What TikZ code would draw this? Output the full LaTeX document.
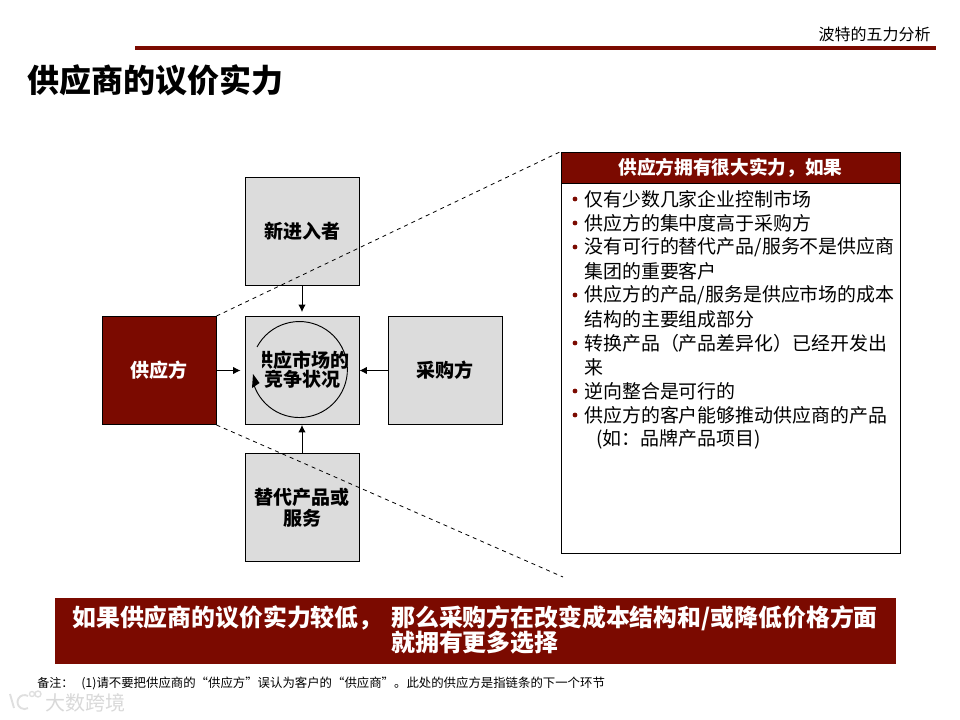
\documentclass[tikz,border=0pt]{standalone}
\usepackage{fontspec}
\setmainfont{Noto Sans CJK SC}
\usepackage{tikz}
\usetikzlibrary{arrows.meta}
\definecolor{darkred}{HTML}{7B0A00}
\definecolor{boxgray}{HTML}{DCDCDC}
\tikzset{
    force/.style={draw=black,fill=boxgray,line width=0.7pt,minimum width=85.5pt,minimum height=81pt,inner sep=0pt,align=center,font=\fontsize{14.25}{16}\selectfont\bfseries},
    redforce/.style={force,fill=darkred,text=white},
    line/.style={anchor=west,inner sep=0pt,font=\fontsize{14.2}{17}\selectfont},
    dot/.style={circle,fill=darkred,inner sep=0pt,minimum size=3.6pt},
    link/.style={-{Latex[length=5.5pt,width=5.5pt]},line width=0.7pt},
    guide/.style={dashed,line width=0.6pt},
    barline/.style={anchor=west,inner sep=0pt,text=white,font=\fontsize{17.9}{21}\selectfont\bfseries}
}
\begin{document}
\begin{tikzpicture}[x=0.75pt,y=-0.75pt]
        \useasboundingbox (0,0) rectangle (960,720);
        \fill[white] (0,0) rectangle (960,720);
        \node[anchor=east,inner sep=0pt,font=\fontsize{12}{14}\selectfont] (section) at (931,34) {波特的五力分析};
        \coordinate (ruleL) at (135,48);
        \coordinate (ruleR) at (936,48);
        \draw[darkred,line width=2.5pt] (ruleL) -- (ruleR);
        \node[anchor=west,inner sep=0pt,font=\fontsize{24}{28}\selectfont\bfseries] (title) at (27,80) {供应商的议价实力};

        \node[force] (entrant) at (302,231.5) {新进入者};
        \node[redforce] (supplier) at (159,370.5) {供应方};
        \node[force] (market) at (302,370.5) {};
        \node[force] (buyer) at (445,370.5) {采购方};
        \node[force] (substitute) at (302,507.5) {替代产品或\\服务};

        \node[inner sep=0pt,align=center,font=\fontsize{14.25}{14.6}\selectfont\bfseries] (rivalry) at (302,369.5) {供应市场的\\竞争状况};
        \fill[boxgray] (250,349) rectangle (261.5,369);
        \draw[line width=0.7pt] (257,347) arc[start angle=208,end angle=522,radius=48];
        \fill (253,374) -- (259.5,383) -- (252,388) -- cycle;

        \draw[link,shorten >=3pt] (supplier) -- (market);
        \draw[link,shorten >=3pt] (entrant) -- (market);
        \draw[link] (buyer) -- (market);
        \draw[link] (substitute) -- (market);

        \node[draw=black,fill=white,line width=0.6pt,minimum width=254.25pt,minimum height=300.75pt,inner sep=0pt] (panel) at (730.5,352.5) {};
        \node[draw=black,fill=darkred,text=white,line width=0.6pt,minimum width=254.25pt,minimum height=23.25pt,inner sep=0pt,font=\fontsize{14}{17}\selectfont\bfseries] (panelhead) at (730.5,167.5) {供应方拥有很大实力，如果};
        \draw[guide] (supplier.north east) -- (panel.north west);
        \coordinate (guideend) at (563,577);
        \draw[guide] (supplier.south east) -- (guideend);

        \foreach \name/\ypos in {a/199,b/223,c/247,e/295,g/343,i/391,j/415}
            \node[dot] (dot\name) at (575,\ypos) {};
        \foreach \ypos/\txt in {199/{仅有少数几家企业控制市场},223/{供应方的集中度高于采购方},247/{没有可行的替代产品/服务不是供应商},271/{集团的重要客户},295/{供应方的产品/服务是供应市场的成本},319/{结构的主要组成部分},343/{转换产品（产品差异化）已经开发出},367/{来},391/{逆向整合是可行的},415/{供应方的客户能够推动供应商的产品}}
            \node[line] at (584,\ypos) {\txt};
        \node[line] (example) at (596,439) {(如：品牌产品项目)};

        \node[fill=darkred,minimum width=630.75pt,minimum height=49.5pt,inner sep=0pt] (conclusion) at (475.5,631) {};
        \node[barline] (concl1) at (72,618) {如果供应商的议价实力较低，};
        \node[barline] (concl2) at (391,618) {那么采购方在改变成本结构和/或降低价格方面};
        \node[barline] (concl3) at (391,643) {就拥有更多选择};

        \node[anchor=west,inner sep=0pt,font=\fontsize{9}{11}\selectfont] (notelabel) at (37,683) {备注：};
        \node[anchor=west,inner sep=0pt,font=\fontsize{9.3}{11}\selectfont] (note) at (81,683) {(1)请不要把供应商的“供应方”误认为客户的“供应商”。此处的供应方是指链条的下一个环节};

        \node[anchor=west,inner sep=0pt,text=gray!30,font=\fontsize{15}{18}\selectfont] (mark) at (45,703) {大数跨境};
        \draw[gray!25,line width=1.4pt] (10,694) -- (14,708);
        \draw[gray!25,line width=1.4pt] (28,696) arc[start angle=300,end angle=60,radius=7];
        \draw[gray!25,line width=1pt] (32,694) circle[radius=2.5] (38,694) circle[radius=3];
    \end{tikzpicture}
\end{document}
